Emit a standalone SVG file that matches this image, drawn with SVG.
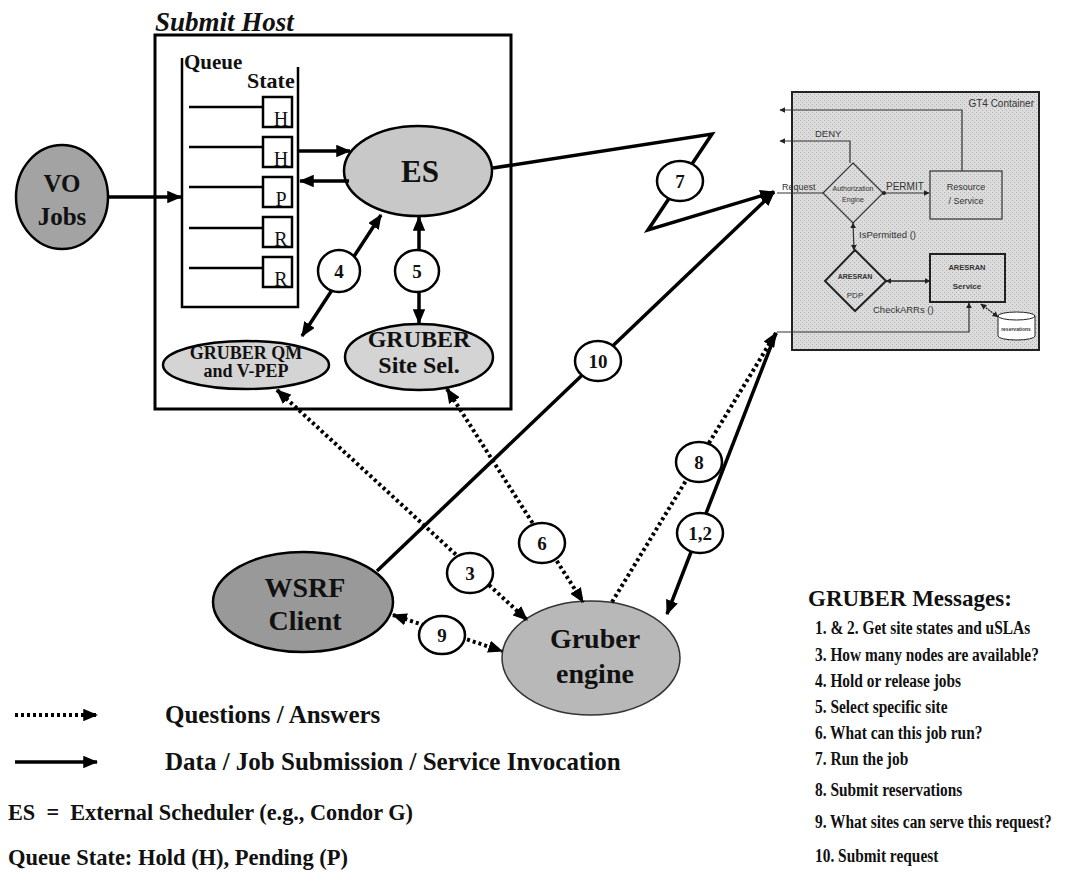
<svg xmlns="http://www.w3.org/2000/svg" width="1067" height="890" viewBox="0 0 1067 890">
<style>
.s{font-family:"Liberation Serif","Times New Roman",serif;font-weight:bold;fill:#111}
.r{font-family:"Liberation Serif","Times New Roman",serif;font-weight:normal;fill:#111}
.a{font-family:"Liberation Sans",Arial,sans-serif;fill:#333}
.m{text-anchor:middle}
.ln{fill:none;stroke:#000;stroke-width:3.5}
.dt{fill:none;stroke:#000;stroke-width:4;stroke-dasharray:3 3}
.lbl{fill:#fff;stroke:#000;stroke-width:2.5}
.thin{fill:none;stroke:#333;stroke-width:1.2}
.nd{stroke:#000;stroke-width:2.5}
</style>
<defs>
<marker id="ah" viewBox="0 0 12 10" refX="11" refY="5" markerUnits="userSpaceOnUse" markerWidth="15" markerHeight="12.5" orient="auto-start-reverse"><path d="M0,0 L12,5 L0,10 z" fill="#000"/></marker>
<marker id="sh" viewBox="0 0 10 10" refX="9" refY="5" markerUnits="userSpaceOnUse" markerWidth="6" markerHeight="6" orient="auto-start-reverse"><path d="M0,0 L10,5 L0,10 z" fill="#222"/></marker>
<pattern id="dots" width="4" height="4" patternUnits="userSpaceOnUse"><rect width="4" height="4" fill="#dcdcdc"/><rect width="1" height="1" fill="#b0b0b0"/><rect x="2" y="2" width="1" height="1" fill="#b0b0b0"/></pattern>
</defs>
<rect width="1067" height="890" fill="#fff"/>

<g id="submit-host">
<rect x="155" y="35" width="356" height="374" fill="none" stroke="#000" stroke-width="3"/>
<text class="s" x="155" y="31" font-size="27" font-style="italic">Submit Host</text>
</g>

<g id="queue">
<path d="M182,58 V307 H298 V67" fill="none" stroke="#000" stroke-width="2.5"/>
<text class="s" x="184" y="69" font-size="21">Queue</text>
<text class="s" x="247" y="88" font-size="22">State</text>
<g stroke="#000" stroke-width="2.5" fill="#fff">
<line x1="189" y1="107" x2="263" y2="107"/><line x1="189" y1="147" x2="263" y2="147"/><line x1="189" y1="187" x2="263" y2="187"/><line x1="189" y1="228" x2="263" y2="228"/><line x1="189" y1="268" x2="263" y2="268"/>
<rect x="263" y="97" width="29" height="30"/><rect x="263" y="137" width="29" height="30"/><rect x="263" y="177" width="29" height="30"/><rect x="263" y="217" width="29" height="30"/><rect x="263" y="257" width="29" height="30"/>
</g>
<g class="r m" font-size="20">
<text x="281" y="126">H</text><text x="281" y="166">H</text><text x="281" y="206">P</text><text x="281" y="246">R</text><text x="281" y="286">R</text>
</g>
</g>

<g id="vo-jobs">
<ellipse class="nd" cx="62" cy="197" rx="46" ry="52" fill="#a3a3a3"/>
<text class="s m" x="62" y="192" font-size="25">VO</text>
<text class="s m" x="62" y="225" font-size="25">Jobs</text>
</g>

<g id="es">
<ellipse class="nd" cx="418" cy="171" rx="74" ry="45" fill="#c8c8c8"/>
<text class="s m" x="420" y="182" font-size="31">ES</text>
</g>

<g id="gruber-qm">
<ellipse class="nd" cx="246" cy="365" rx="83" ry="24" fill="#d4d4d4"/>
<text class="s m" x="246" y="359" font-size="18">GRUBER QM</text>
<text class="s m" x="246" y="377" font-size="18">and V-PEP</text>
</g>

<g id="gruber-site-sel">
<ellipse class="nd" cx="419" cy="357" rx="74" ry="33" fill="#d4d4d4"/>
<text class="s m" x="419" y="347" font-size="24">GRUBER</text>
<text class="s m" x="419" y="373" font-size="24">Site Sel.</text>
</g>

<g id="wsrf-client">
<ellipse class="nd" cx="303" cy="602" rx="90" ry="50" fill="#999"/>
<text class="s m" x="305" y="597" font-size="28">WSRF</text>
<text class="s m" x="305" y="630" font-size="28">Client</text>
</g>

<g id="gruber-engine">
<ellipse cx="591" cy="658" rx="89" ry="57" fill="#b8b8b8" stroke="#333" stroke-width="1.5"/>
<text class="s m" x="595" y="648" font-size="28">Gruber</text>
<text class="s m" x="595" y="683" font-size="28">engine</text>
</g>

<g id="gt4-container">
<rect x="792" y="92" width="247" height="258" fill="url(#dots)" stroke="#222" stroke-width="2"/>
<text class="a" x="1034" y="107" font-size="10" text-anchor="end" fill="#222">GT4 Container</text>
<polyline class="thin" points="962,171 962,110 780,110" marker-end="url(#sh)"/>
<polyline class="thin" points="850,163 850,141 780,141" marker-end="url(#sh)"/>
<text class="a" x="815" y="137" font-size="9.5">DENY</text>
<line class="thin" x1="777" y1="193" x2="823" y2="193"/>
<text class="a" x="782" y="190" font-size="9">Request</text>
<polygon points="853,163 883,193 853,223 823,193" fill="none" stroke="#333" stroke-width="1.2"/>
<text class="a m" x="853" y="191" font-size="7">Authorization</text>
<text class="a m" x="853" y="202" font-size="7">Engine</text>
<line class="thin" x1="883" y1="193" x2="929" y2="193" marker-end="url(#sh)"/>
<circle cx="884" cy="193" r="2" fill="#222"/>
<text class="a" x="886" y="190" font-size="10">PERMIT</text>
<rect x="930" y="171" width="72" height="48" class="thin"/>
<text class="a m" x="966" y="190" font-size="9">Resource</text>
<text class="a m" x="966" y="204" font-size="9">/ Service</text>
<line class="thin" x1="853" y1="223" x2="854" y2="250" marker-start="url(#sh)" marker-end="url(#sh)"/>
<text class="a" x="859" y="238" font-size="9.5">IsPermitted ()</text>
<polygon points="855,250 886,281 855,311 825,281" fill="none" stroke="#222" stroke-width="2"/>
<text class="a m" x="855" y="279" font-size="7" font-weight="bold">ARESRAN</text>
<text class="a m" x="855" y="298" font-size="8">PDP</text>
<line x1="886" y1="281" x2="930" y2="281" stroke="#222" stroke-width="1.5" marker-start="url(#sh)" marker-end="url(#sh)"/>
<rect x="930" y="254" width="75" height="48" fill="none" stroke="#222" stroke-width="2"/>
<text class="a m" x="967" y="270" font-size="7.5" font-weight="bold">ARESRAN</text>
<text class="a m" x="967" y="289" font-size="8" font-weight="bold">Service</text>
<text class="a" x="873" y="313" font-size="9.5">CheckARRs ()</text>
<polyline class="thin" points="777,332 969,332 969,303" marker-end="url(#sh)"/>
<path d="M998,316 v20 a18.5,4 0 0 0 37,0 v-20 a18.5,4 0 0 0 -37,0 a18.5,4 0 0 0 37,0" fill="#fff" stroke="#222" stroke-width="1"/>
<text class="a m" x="1016" y="331" font-size="5" font-weight="bold">reservations</text>
<line x1="981" y1="304" x2="998" y2="317" stroke="#222" stroke-width="1.3" stroke-dasharray="2 1" marker-start="url(#sh)" marker-end="url(#sh)"/>
</g>

<g id="connectors">
<line class="ln" x1="108" y1="197" x2="181" y2="197" marker-end="url(#ah)"/>
<line class="ln" x1="298" y1="151" x2="350" y2="151" marker-end="url(#ah)"/>
<line class="ln" x1="349" y1="181" x2="300" y2="181" marker-end="url(#ah)"/>
<line class="ln" x1="302" y1="336" x2="381" y2="215" marker-start="url(#ah)" marker-end="url(#ah)"/>
<line class="ln" x1="419" y1="217" x2="419" y2="323" marker-start="url(#ah)" marker-end="url(#ah)"/>
<polyline class="ln" stroke-width="4" points="493,168 712,134 648,230 774,192" marker-end="url(#ah)"/>
<line class="ln" stroke-width="5" x1="377" y1="571" x2="774" y2="192" marker-end="url(#ah)"/>
<line class="dt" x1="277" y1="390" x2="527" y2="620" marker-start="url(#ah)" marker-end="url(#ah)"/>
<line class="dt" x1="447" y1="389" x2="583" y2="602" marker-start="url(#ah)" marker-end="url(#ah)"/>
<line class="dt" x1="393" y1="615" x2="502" y2="651" marker-start="url(#ah)" marker-end="url(#ah)"/>
<line class="dt" x1="612" y1="602" x2="776" y2="333" marker-end="url(#ah)"/>
<line class="ln" x1="776" y1="333" x2="667" y2="614" marker-end="url(#ah)"/>
<g class="lbl">
<ellipse cx="339" cy="271" rx="21" ry="21"/>
<ellipse cx="417" cy="271" rx="22" ry="21"/>
<ellipse cx="680" cy="181" rx="23" ry="20"/>
<ellipse cx="598" cy="361" rx="23" ry="20"/>
<ellipse cx="699" cy="462" rx="23" ry="20"/>
<ellipse cx="700" cy="533" rx="23" ry="20"/>
<ellipse cx="470" cy="573" rx="23" ry="20"/>
<ellipse cx="542" cy="543" rx="23" ry="20"/>
<ellipse cx="442" cy="635" rx="23" ry="19"/>
</g>
<g class="s m" font-size="19">
<text x="339" y="278">4</text>
<text x="417" y="278">5</text>
<text x="680" y="188">7</text>
<text x="598" y="368">10</text>
<text x="699" y="469">8</text>
<text x="700" y="540">1,2</text>
<text x="470" y="580">3</text>
<text x="542" y="550">6</text>
<text x="442" y="642">9</text>
</g>
</g>

<g id="legend">
<line class="dt" x1="15" y1="715" x2="97" y2="715" marker-end="url(#ah)"/>
<line class="ln" x1="15" y1="762" x2="97" y2="762" marker-end="url(#ah)"/>
<text class="s" x="165" y="723" font-size="25">Questions / Answers</text>
<text class="s" x="165" y="770" font-size="25">Data / Job Submission / Service Invocation</text>
<text class="s" x="8" y="820" font-size="24" xml:space="preserve" textLength="405" lengthAdjust="spacingAndGlyphs">ES  =  External Scheduler (e.g., Condor G)</text>
<text class="s" x="8" y="865" font-size="24" textLength="340" lengthAdjust="spacingAndGlyphs">Queue State: Hold (H), Pending (P)</text>
</g>

<g id="messages">
<text class="s" x="808" y="606" font-size="23">GRUBER Messages:</text>
<g class="s" font-size="19.5" transform="translate(815,0) scale(0.79,1)">
<text x="0" y="634">1. &amp; 2. Get site states and uSLAs</text>
<text x="0" y="661">3. How many nodes are available?</text>
<text x="0" y="687">4. Hold or release jobs</text>
<text x="0" y="713">5. Select specific site</text>
<text x="0" y="739">6. What can this job run?</text>
<text x="0" y="765">7. Run the job</text>
<text x="0" y="796">8. Submit reservations</text>
<text x="0" y="828">9. What sites can serve this request?</text>
<text x="0" y="862">10. Submit request</text>
</g>
</g>
</svg>
